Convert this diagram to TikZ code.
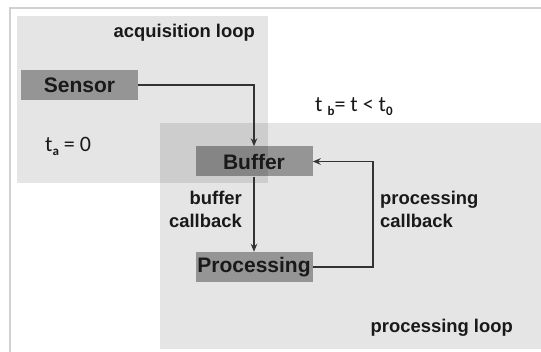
\documentclass[tikz,border=0pt]{standalone}
\usepackage{fontspec}
\setmainfont{Liberation Sans}
\newfontfamily\calfont{Carlito}
\usetikzlibrary{arrows.meta}
\newcommand{\lowsub}[1]{\raisebox{-3.5pt}{\bfseries\fontsize{13}{13}\selectfont #1}}
\begin{document}
\begin{tikzpicture}[x=1pt,y=-1pt,
  loopbox/.style={fill=black,fill opacity=0.1},
  block/.style={fill=black,fill opacity=0.35,text opacity=1,text=black!90,
    minimum width=117pt,minimum height=30pt,inner sep=0pt,
    font=\bfseries\fontsize{21}{21}\selectfont},
  lbl/.style={font=\bfseries\fontsize{18.4}{23}\selectfont,inner sep=0pt,text=black!90},
  timelbl/.style={font=\calfont\fontsize{22}{22}\selectfont,inner sep=0pt,text=black!90},
  flow/.style={draw=black!80,line width=1.6pt,-{Stealth[length=8pt,width=6.5pt]}}
]
\useasboundingbox (0,0) rectangle (541,352);
\fill[white] (0,0) rectangle (541,352);
% frame edges
\draw[black!18,line width=1.5pt] (10,352) -- (10,8) -- (541,8);
% loop regions
\fill[loopbox] (17,16) rectangle (268,183);
\fill[loopbox] (160,123) rectangle (541,349);
% blocks
\node[block] (sensor) at (79.5,85) {Sensor};
\node[block] (buffer) at (254,161.5) {Buffer};
\node[block] (processing) at (254,267) {Processing};
% connectors
\draw[flow] (sensor.east) -| (buffer.north);
\draw[flow] (buffer.south) -- (processing.north);
\draw[flow] (processing.east) -- ++(60,0) |- (buffer.east);
% labels
\node[lbl,anchor=base east] (acqlbl) at (255,38) {acquisition loop};
\node[lbl,anchor=base east] (proclbl) at (513,333) {processing loop};
\node[lbl,anchor=base east,align=right] (bufcb) at (242,228) {buffer\\callback};
\node[lbl,anchor=base west,align=left] (proccb) at (380,228) {processing\\callback};
\node[timelbl,anchor=base west] (ta) at (45,152) {t\lowsub{a} = 0};
\node[timelbl,anchor=base west] (tb) at (315,112) {t \lowsub{b}= t < t\lowsub{0}};
\end{tikzpicture}
\end{document}
